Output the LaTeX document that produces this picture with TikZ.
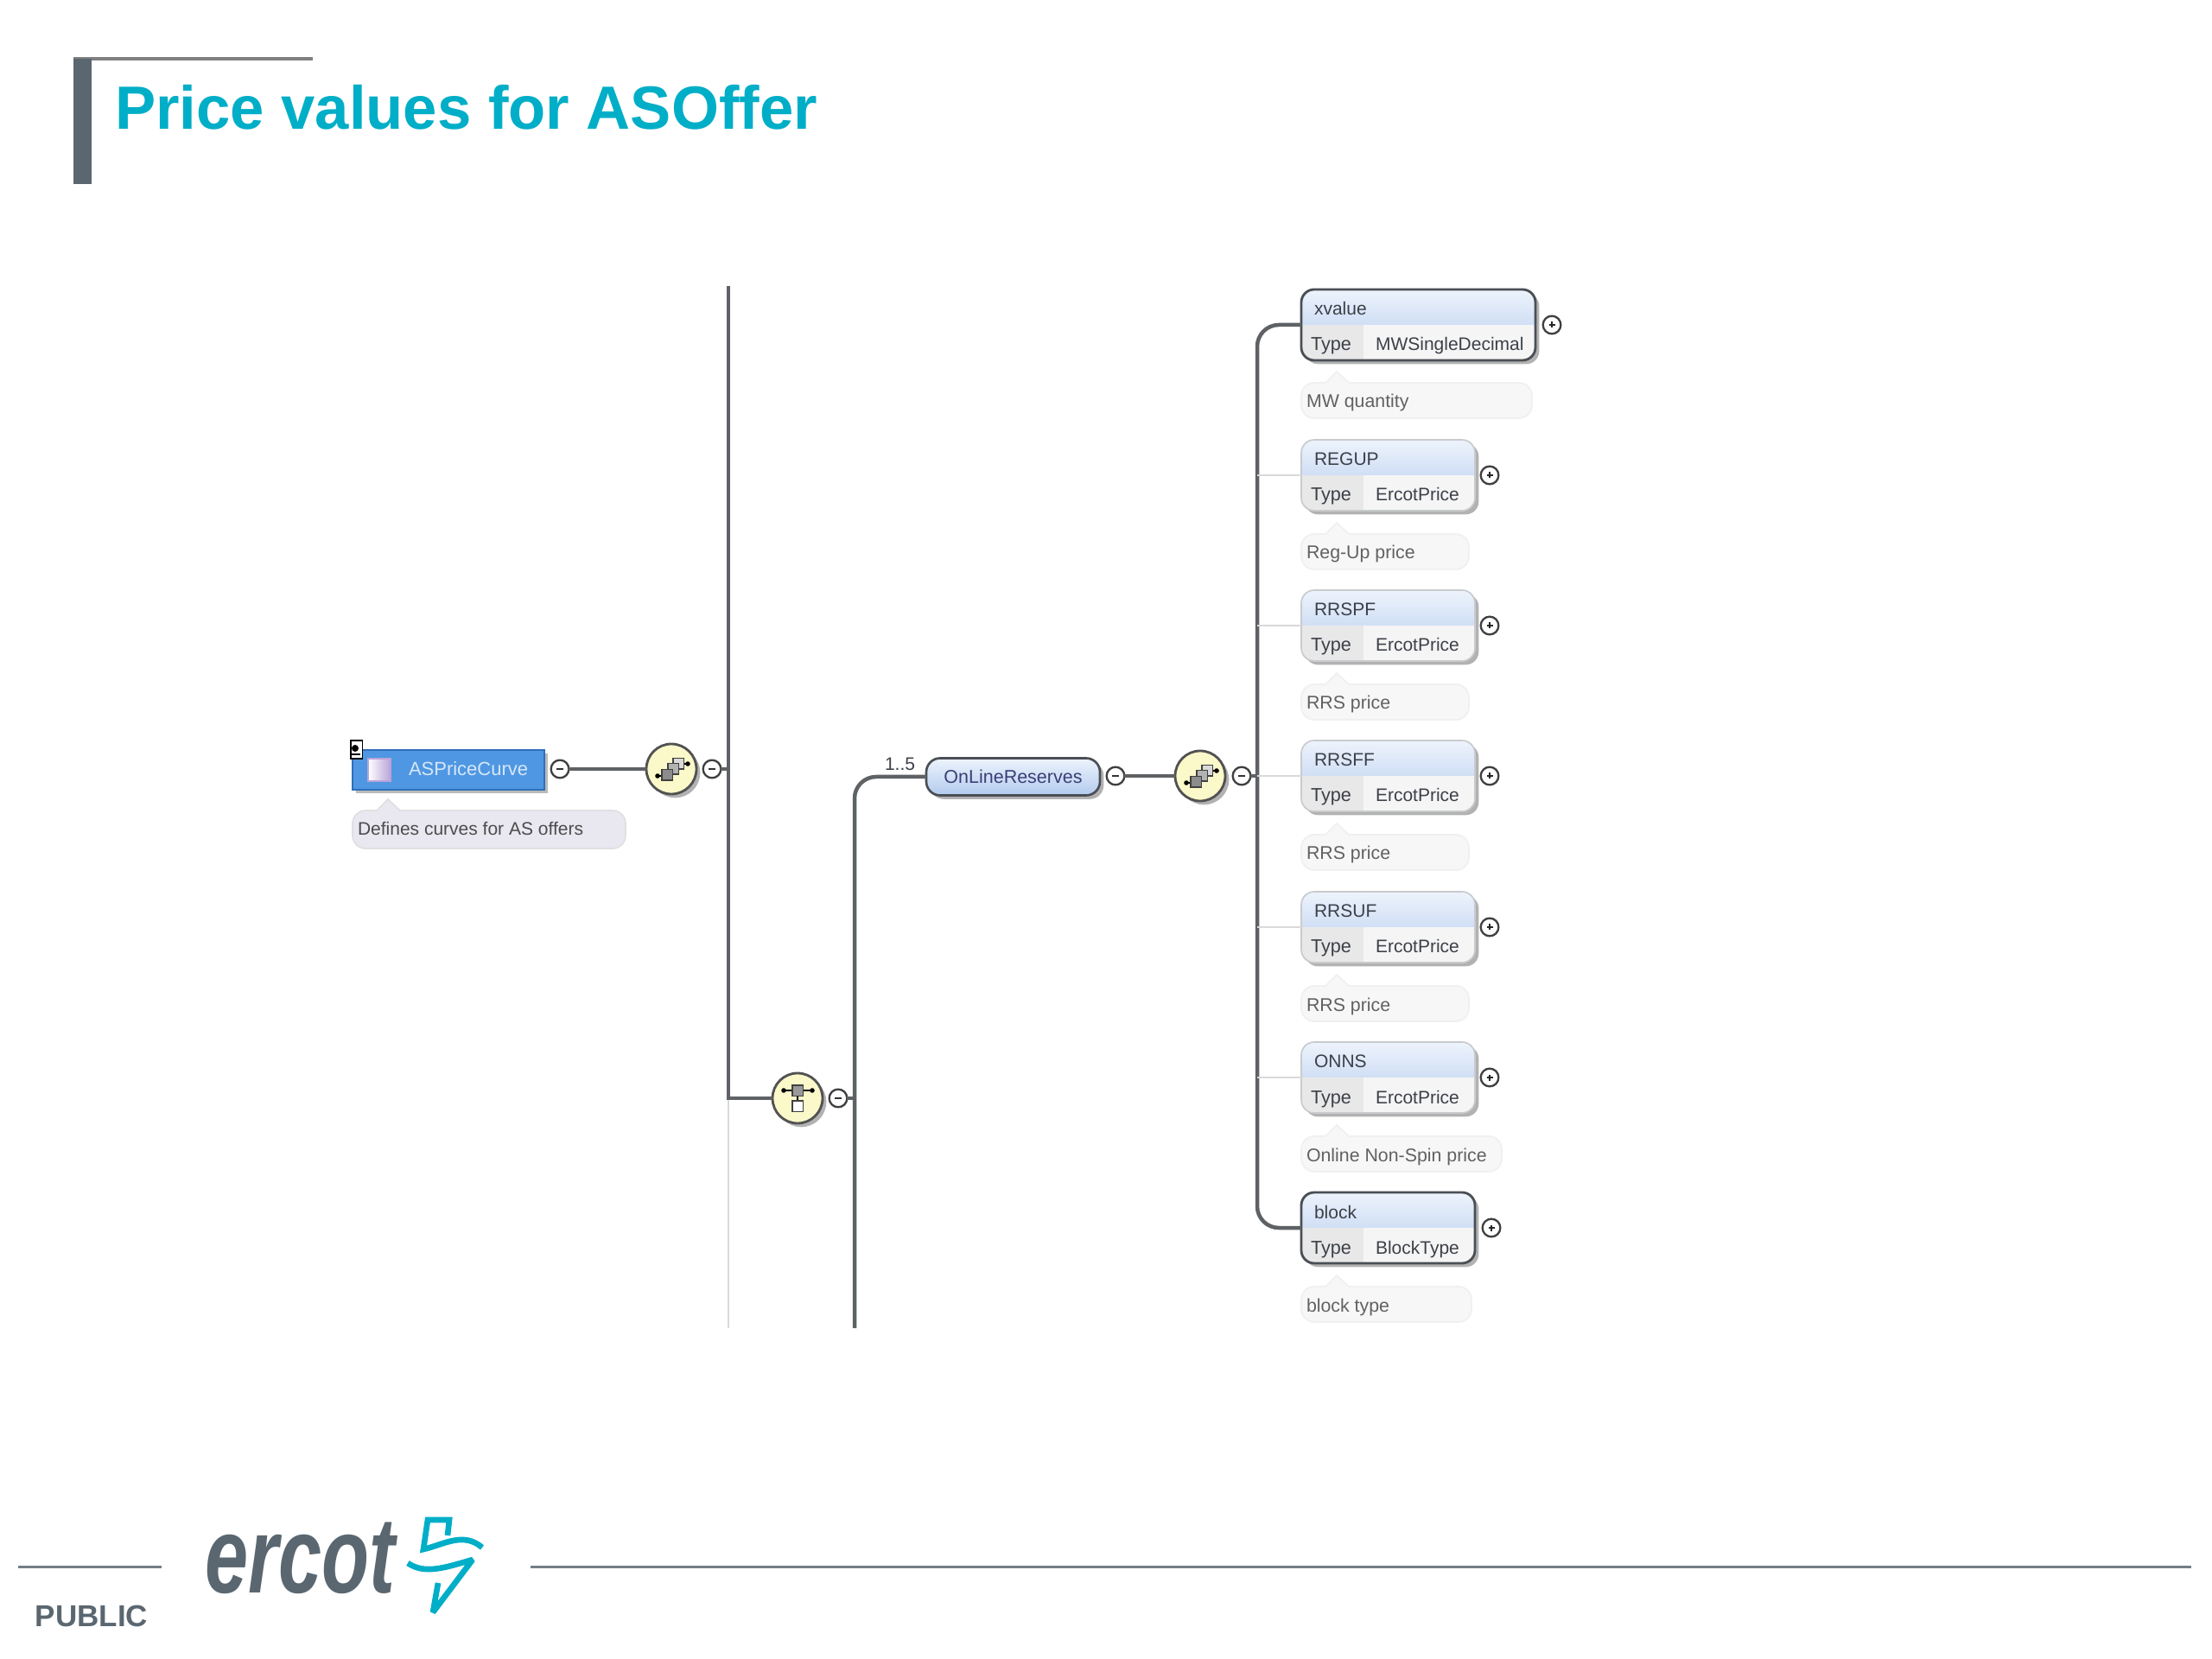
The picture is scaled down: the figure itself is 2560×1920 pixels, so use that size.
\documentclass[tikz,border=0pt]{standalone}
\usepackage{fontspec}
\setmainfont{Liberation Sans}
\usetikzlibrary{calc,shadows}
\definecolor{ercgray}{HTML}{5B6770}
\definecolor{ercteal}{HTML}{00AEC7}
\definecolor{trunkc}{HTML}{5F6265}
\definecolor{txtc}{HTML}{3C4048}
\definecolor{darkb}{HTML}{4A4F55}
\definecolor{lightb}{HTML}{C9CBCE}
\definecolor{blueb}{HTML}{B3CBEE}
\definecolor{bluet}{HTML}{EDF3FC}
\definecolor{compf}{HTML}{FBF9C9}
\definecolor{apfill}{HTML}{4F97E2}
\definecolor{apline}{HTML}{2F6FB8}
\definecolor{aptext}{HTML}{D6E7F9}
\definecolor{apicon}{HTML}{B9A3D8}
\definecolor{apdoc}{HTML}{E9E7F0}
\tikzset{
  x=0.3pt,y=-0.3pt,
  every node/.style={inner sep=0pt,outer sep=0pt},
  conn/.style={draw=trunkc,line width=1.35pt},
  thinconn/.style={draw=black!15,line width=0.5pt},
  txt/.style={anchor=base west,text=txtc,font=\fontsize{6.3}{7}\selectfont},
  doctxt/.style={anchor=base west,text=black!62,font=\fontsize{6.4}{7}\selectfont},
  softshadow/.style={drop shadow={shadow xshift=1.3pt,shadow yshift=-1.3pt,fill=black,opacity=.3}},
  circ/.style={circle,draw=black!75,line width=.7pt,fill=white,minimum size=6.2pt},
  minusc/.style={circ,path picture={\draw[line width=.6pt,black!80] ($(path picture bounding box.center)+(-4,0)$) -- ($(path picture bounding box.center)+(4,0)$);}},
  plusc/.style={circ,path picture={\draw[line width=.6pt,black!85] ($(path picture bounding box.center)+(-3.5,0)$) -- ($(path picture bounding box.center)+(3.5,0)$) ($(path picture bounding box.center)+(0,-3.5)$) -- ($(path picture bounding box.center)+(0,3.5)$);}},
  compc/.style={circle,draw=black!68,line width=.85pt,fill=compf,minimum size=17.4pt,softshadow},
  isq/.style={draw=black!75,line width=.4pt,minimum size=3.7pt},
}
% id, centre y, width, title, type, border colour, border width, plus x
\newcommand{\elembox}[8]{%
  \node[anchor=west,draw=#6,line width=#7,rounded corners=4.5pt,minimum width=#3*.3pt,minimum height=24.6pt,
    softshadow,fill=white,
    path picture={
      \shade[sharp corners,top color=bluet,bottom color=blueb] (path picture bounding box.north west) rectangle (path picture bounding box.east);
      \fill[sharp corners,black!4] (path picture bounding box.west) rectangle (path picture bounding box.south east);
      \fill[sharp corners,black!9] (path picture bounding box.west) rectangle ($(path picture bounding box.south west)+(72,0)$);
    }] (#1) at (1506,#2) {};
  \node[txt] (#1t) at (1521,#2-11) {#4};
  \node[txt] (#1k) at (1517,#2+30) {\fontsize{6.5}{7}\selectfont Type};
  \node[txt] (#1v) at (1592,#2+30) {#5};
  \node[plusc] (#1p) at (#8,#2) {};
}
% id, top y, width, text
\newcommand{\docbub}[4]{%
  \node[anchor=north west,draw=black!6,fill=black!3,line width=.5pt,rounded corners=4.5pt,minimum width=#3*.3pt,minimum height=12.3pt] (#1) at (1506,#2) {};
  \fill[black!3] (1534,#2+1) -- (1547,#2-13) -- (1561,#2+1) -- cycle;
  \draw[black!6,line width=.5pt] (1534,#2) -- (1547,#2-13) -- (1561,#2);
  \node[doctxt] (#1x) at (1512,#2+29) {#4};
}
\newcommand{\seqcomp}[3]{%
  \node[compc] (#1) at (#2,#3) {};
  \draw[black,line width=.45pt] (#2-16,#3+8) -- (#2-6,#3+8) (#2+8,#3-6) -- (#2+19,#3-6);
  \fill[black] (#2-16,#3+8) circle (2.8) (#2+19,#3-6) circle (2.8);
  \node[isq,fill=black!15] (#1a) at (#2+8,#3-6) {};
  \node[isq,fill=black!30] (#1b) at (#2+2,#3) {};
  \node[isq,fill=black!45] (#1c) at (#2-5,#3+7) {};
}
\newcommand{\choicecomp}[3]{%
  \node[compc] (#1) at (#2,#3) {};
  \draw[black,line width=.45pt] (#2-16,#3-9) -- (#2+17,#3-9) (#2,#3-9) -- (#2,#3+9);
  \fill[black] (#2-16,#3-9) circle (2.8) (#2+17,#3-9) circle (2.8);
  \node[isq,fill=black!40] (#1a) at (#2,#3-9) {};
  \node[isq,fill=white] (#1b) at (#2,#3+9) {};
}
\begin{document}
\begin{tikzpicture}
\path[use as bounding box,fill=white] (0,0) rectangle (2560,1920);
% header
\fill[black!50] (85,66) rectangle (362,70);
\fill[ercgray] (85,68) rectangle (106,213);
\node[anchor=base west,text=ercteal,font=\fontsize{21.2}{24}\selectfont\bfseries] (title) at (133,150) {Price values for ASOffer};
% footer
\coordinate (fa) at (21,1813); \coordinate (fb) at (187,1813);
\coordinate (fc) at (614,1813); \coordinate (fd) at (2536,1813);
\draw[ercgray!85,line width=.9pt] (fa) -- (fb) (fc) -- (fd);
\node[anchor=base west,text=ercgray,font=\fontsize{10.5}{12}\selectfont\bfseries] (pub) at (41,1882) {PUBLIC};
\node[anchor=base west,text=ercgray,xscale=.72,font=\fontsize{37.5}{40}\selectfont\bfseries\itshape] (erc) at (237,1843) {ercot};
\draw[ercteal,line width=2pt,line join=miter] (518,1777) -- (520,1759) -- (495,1759) -- (490,1793) .. controls (513,1788) and (536,1772) .. (558,1791);
\draw[ercteal,line width=2pt,line join=bevel] (472,1809) .. controls (491,1822) and (513,1815) .. (547,1805) -- (501,1866) -- (507,1832);
% ASPriceCurve
\node[anchor=north west,fill=black!45,minimum width=66.6pt,minimum height=13.8pt,opacity=.6] (aps) at (412,872) {};
\node[anchor=north west,fill=apfill,draw=apline,line width=.5pt,minimum width=66.6pt,minimum height=13.8pt] (ap) at (408,868) {};
\node[anchor=north west,draw=apicon,line width=.5pt,minimum size=7.8pt,left color=white,right color=apicon] (apic) at (426,878) {};
\node[anchor=base west,text=aptext,font=\fontsize{6.6}{8}\selectfont] (apt) at (473,898) {ASPriceCurve};
\node[anchor=north west,draw=black,fill=white,line width=.5pt,minimum width=4pt,minimum height=6.4pt] (apg) at (406,857) {};
\fill[black] (411,866) circle (4);
\draw[black,line width=.6pt] (407,873) -- (417,873);
% doc of ASPriceCurve
\node[anchor=north west,draw=black!12,fill=apdoc,line width=.5pt,rounded corners=4.5pt,minimum width=94.8pt,minimum height=13.2pt] (apd) at (408,938) {};
\fill[apdoc] (436,939) -- (449,925) -- (463,939) -- cycle;
\draw[black!12,line width=.5pt] (436,938) -- (449,925) -- (463,938);
\node[doctxt,text=black!70,font=\fontsize{6.3}{7}\selectfont] (apdx) at (414,967) {Defines curves for AS offers};
% tree nodes
\node[minusc] (m1) at (648,890) {};
\seqcomp{c1}{777}{890}
\node[minusc] (m2) at (824,890) {};
\choicecomp{c2}{923}{1271}
\node[minusc] (m3) at (970,1271) {};
\node[anchor=west,draw=darkb,line width=.8pt,rounded corners=4.8pt,minimum width=60.3pt,minimum height=12.9pt,top color=bluet,bottom color=blueb,softshadow] (olr) at (1072,899) {};
\node[txt,anchor=base,text=darkb!80!blue,font=\fontsize{6.45}{8}\selectfont] (olrt) at (olr.center) [yshift=-2.3pt] {OnLineReserves};
\node[txt] (mult) at (1024,892) {1..5};
\node[minusc] (m4) at (1291,898) {};
\seqcomp{c3}{1389}{898}
\node[minusc] (m5) at (1437,898) {};
% elements
\elembox{xv}{376}{271}{xvalue}{MWSingleDecimal}{darkb}{.85pt}{1796}
\docbub{xvd}{443}{267}{MW quantity}
\elembox{rg}{550}{201}{REGUP}{ErcotPrice}{lightb}{.5pt}{1724}
\docbub{rgd}{618}{194}{Reg-Up price}
\elembox{sp}{724}{201}{RRSPF}{ErcotPrice}{lightb}{.5pt}{1724}
\docbub{spd}{792}{194}{RRS price}
\elembox{ff}{898}{201}{RRSFF}{ErcotPrice}{lightb}{.5pt}{1724}
\docbub{ffd}{966}{194}{RRS price}
\elembox{uf}{1073}{201}{RRSUF}{ErcotPrice}{lightb}{.5pt}{1724}
\docbub{ufd}{1141}{194}{RRS price}
\elembox{on}{1247}{201}{ONNS}{ErcotPrice}{lightb}{.5pt}{1724}
\docbub{ond}{1315}{232}{Online Non-Spin price}
\elembox{bl}{1421}{201}{block}{BlockType}{darkb}{.85pt}{1726}
\docbub{bld}{1489}{197}{block type}
% connectors
\coordinate (t1top) at (843,331);
\coordinate (t1mid) at (843,890);
\coordinate (t1el) at (843,1271);
\coordinate (t1bot) at (843,1537);
\coordinate (t2bot) at (989,1537);
\coordinate (t2mid) at (989,1271);
\coordinate (t3) at (1455,898);
\draw[thinconn] (t1el) -- (t1bot);
\draw[conn] (t1top) -- (t1el) -- (c2);
\draw[conn] (m1) -- (c1);
\draw[conn] (m2) -- (t1mid);
\draw[conn] (m3) -- (t2mid);
\draw[conn,rounded corners=7.5pt] (t2bot) |- (olr.west);
\draw[conn] (m4) -- (c3);
\draw[conn] (m5) -- (t3);
\draw[conn,rounded corners=7.5pt] (xv.west) -| (t3) |- (bl.west);
\foreach \b in {rg,sp,ff,uf,on}{\draw[thinconn] (t3 |- \b.west) -- (\b.west);}
\end{tikzpicture}
\end{document}
